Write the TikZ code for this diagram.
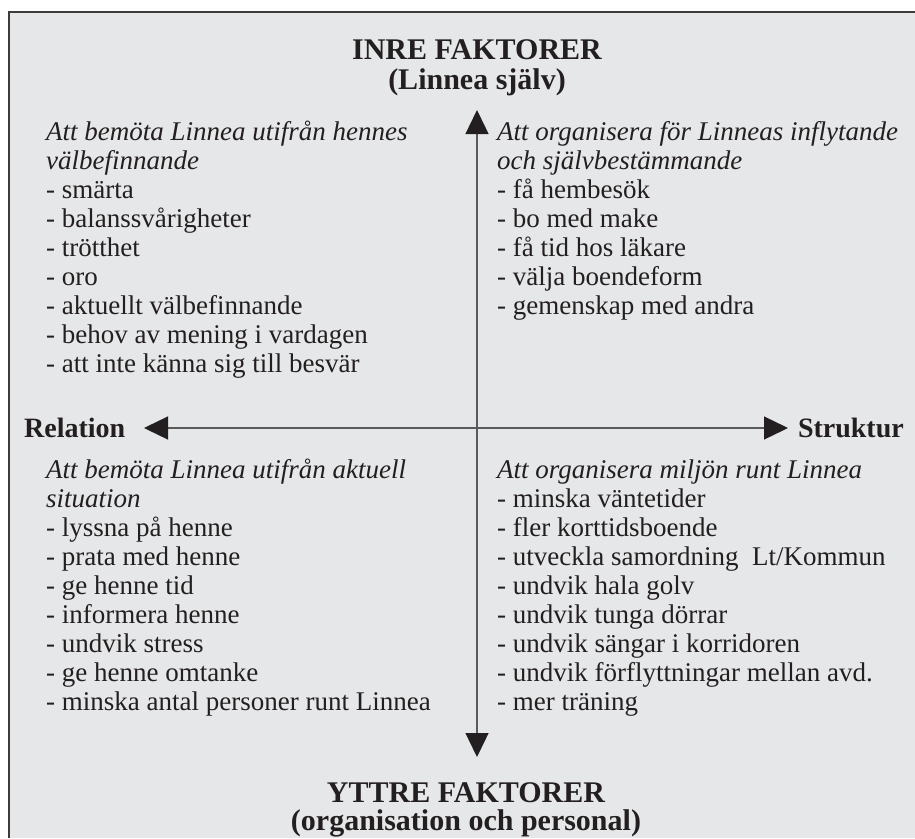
\documentclass[tikz,border=0pt]{standalone}
\usepackage{fontspec}
\setmainfont{Liberation Serif}
\usetikzlibrary{arrows.meta}
\definecolor{bgray}{HTML}{E6E7E8}
\definecolor{ink}{HTML}{231F20}
\definecolor{axis}{HTML}{5A5A5A}
\definecolor{frame}{HTML}{3C3C3C}
\tikzset{
  block/.style={anchor=base west, align=left, inner sep=0pt, text=ink,
    font=\fontsize{27}{29}\selectfont},
  title/.style={anchor=base, align=center, inner sep=0pt, text=ink,
    font=\fontsize{30}{30}\selectfont\bfseries},
  side/.style={inner sep=0pt, text=ink, font=\fontsize{28}{30}\selectfont\bfseries},
  axisline/.style={draw=axis, line width=1.3pt,
    -{Triangle[length=24pt,width=23pt,color=ink]}},
}
\begin{document}
\begin{tikzpicture}[x=1pt,y=-1pt]
\useasboundingbox (0,0) rectangle (915,838);
\fill[bgray] (9,12) rectangle (915,838);
\draw[frame, line width=1.5pt] (9,838) -- (9,12) -- (915,12);

\node[title] (inre) at (477,59) {INRE FAKTORER};
\node[title] (inre2) at (477,89) {(Linnea själv)};
\node[title] (yttre) at (466,802) {YTTRE FAKTORER};
\node[title] (yttre2) at (466,830) {(organisation och personal)};

\node[side, anchor=base west] (rel) at (24,437) {Relation};
\node[side, anchor=base east] (str) at (904,437) {Struktur};

\coordinate (c) at (477,428);
\coordinate (up) at (477,110);
\coordinate (down) at (477,757);
\coordinate (left) at (144,428);
\coordinate (right) at (788,428);
\draw[axisline] (c) -- (up);
\draw[axisline] (c) -- (down);
\draw[axisline] (c) -- (left);
\draw[axisline] (c) -- (right);

% anchors are on the baseline of each block's last line
\node[block] (tl) at (46,372) {\itshape Att bemöta Linnea utifrån hennes\\
\itshape välbefinnande\\
- smärta\\
- balanssvårigheter\\
- trötthet\\
- oro\\
- aktuellt välbefinnande\\
- behov av mening i vardagen\\
- att inte känna sig till besvär};

\node[block] (tr) at (497,314) {\itshape Att organisera för Linneas inflytande\\
\itshape och självbestämmande\\
- få hembesök\\
- bo med make\\
- få tid hos läkare\\
- välja boendeform\\
- gemenskap med andra};

\node[block] (bl) at (46,710) {\itshape Att bemöta Linnea utifrån aktuell\\
\itshape situation\\
- lyssna på henne\\
- prata med henne\\
- ge henne tid\\
- informera henne\\
- undvik stress\\
- ge henne omtanke\\
- minska antal personer runt Linnea};

\node[block] (br) at (497,710) {\itshape Att organisera miljön runt Linnea\\
- minska väntetider\\
- fler korttidsboende\\
- utveckla samordning\ \ Lt/Kommun\\
- undvik hala golv\\
- undvik tunga dörrar\\
- undvik sängar i korridoren\\
- undvik förflyttningar mellan avd.\\
- mer träning};
\end{tikzpicture}
\end{document}
